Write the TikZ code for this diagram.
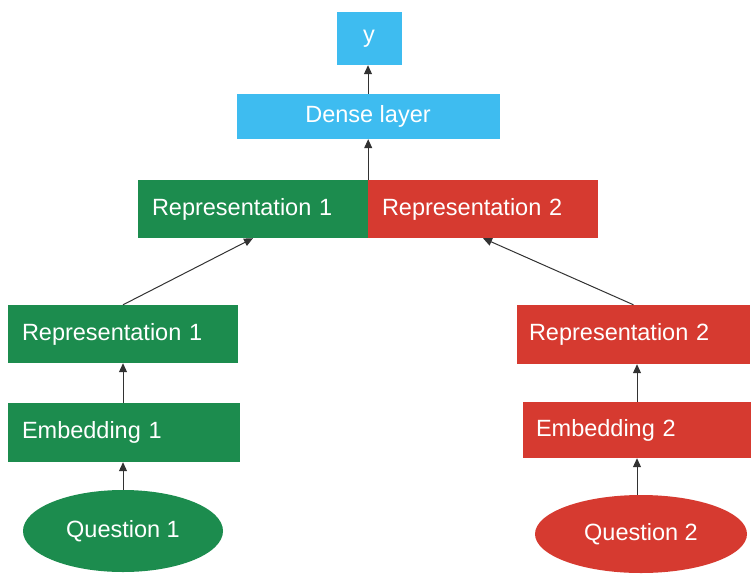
\documentclass[tikz,border=0pt]{standalone}
\usepackage{fontspec}
\setmainfont{Liberation Sans}
\usetikzlibrary{shapes.geometric,arrows.meta}
\definecolor{gr}{RGB}{28,140,78}
\definecolor{rd}{RGB}{214,58,48}
\definecolor{bl}{RGB}{62,188,240}
\definecolor{ln}{RGB}{50,50,50}
\tikzset{
  base/.style={draw=none, text=white, font=\fontsize{23.5}{27}\selectfont, inner ysep=0pt},
  lbox/.style={base, rectangle, inner xsep=14pt, align=left},
  cbox/.style={base, rectangle, inner xsep=0pt, align=center},
  oval/.style={base, ellipse, inner sep=0pt},
  arr/.style={draw=ln, line width=1pt, -{Triangle[length=9pt,width=8pt]}}
}
\begin{document}
\begin{tikzpicture}[x=1pt,y=-1pt]
\useasboundingbox (0,0) rectangle (751,573);
% top
\node[cbox, fill=bl, minimum width=65pt, minimum height=53pt] (y) at (369,38.5) {y};
\node[cbox, fill=bl, minimum width=263pt, minimum height=45pt] (dense) at (368,116.5) {Dense layer};
% combined representation
\node[lbox, fill=gr, text width=202pt, minimum height=58pt] (c1) at (253,209) {Representation 1};
\node[lbox, fill=rd, text width=202pt, minimum height=58pt] (c2) at (483,209) {Representation 2};
% left branch
\node[lbox, fill=gr, text width=202pt, minimum height=58pt] (r1) at (123,334) {Representation 1};
\node[lbox, fill=gr, text width=204pt, minimum height=59pt] (e1) at (124,432.5) {Embedding 1};
\node[oval, fill=gr, minimum width=200pt, minimum height=82pt] (q1) at (123,531) {Question 1};
% right branch
\node[lbox, fill=rd, inner xsep=12pt, text width=209pt, minimum height=59pt] (r2) at (633.5,334.5) {Representation 2};
\node[lbox, fill=rd, inner xsep=13pt, text width=202pt, minimum height=56pt] (e2) at (637,430) {Embedding 2};
\node[oval, fill=rd, minimum width=212pt, minimum height=78pt] (q2) at (641,534) {Question 2};
% connectors
\draw[arr] (q1.north) -- (q1.north |- e1.south);
\draw[arr] (e1.north -| r1.south) -- (r1.south);
\draw[arr] (r1.north) -- (c1.south);
\draw[arr] (q2.north -| e2.south) -- (e2.south);
\draw[arr] (e2.north) -- (e2.north |- r2.south);
\draw[arr] (r2.north) -- (c2.south);
\draw[arr] (c1.north east) -- (c1.north east |- dense.south);
\draw[arr] (dense.north) -- (dense.north |- y.south);
\end{tikzpicture}
\end{document}
